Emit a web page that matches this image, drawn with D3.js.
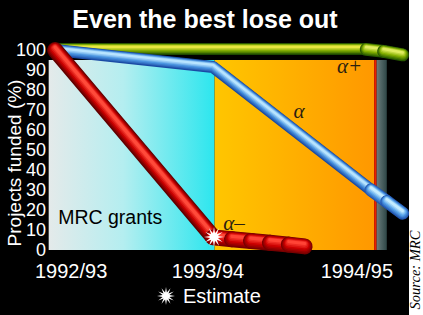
<!DOCTYPE html>
<html>
<head>
<meta charset="utf-8">
<script src="https://cdn.jsdelivr.net/npm/d3@7.9.0/dist/d3.min.js"></script>
<style>
  body { margin: 0; background: #fff; }
  svg { display: block; }
</style>
</head>
<body>
<svg id="chart" width="423" height="315"></svg>
<script>
// --- data ---
const years = ['1992/93', '1993/94', '1994/95'];
const yTicks = [0, 10, 20, 30, 40, 50, 60, 70, 80, 90, 100];

// [year index, % funded]
const alphaPlus = [[0, 100.5], [1, 100.5], [1.96, 100.5]];
const alphaPlusEst = [[1.97, 100.3], [2.08, 99.3], [2.2, 97.6]];
const alpha = [[0, 100], [1, 91.5], [2.0, 30]];
const alphaEst = [[2.0, 30], [2.1, 24.2], [2.2, 18.4]];
const alphaMinus = [[0, 100], [1, 6.5]];
const alphaMinusEst = [[1.0, 6.3], [1.12, 5.4], [1.24, 4.5], [1.36, 3.6], [1.48, 2.7], [1.58, 1.8]];
const estimatePoint = [1, 6.5];

const W = 423, H = 315;
const sans = '"Liberation Sans", Arial, sans-serif';
const serif = '"Liberation Serif", "DejaVu Serif", serif';
const svg = d3.select('#chart').style('font-family', sans);

const x = d3.scaleLinear().domain([0, 2]).range([55, 371]);
const y = d3.scaleLinear().domain([0, 100]).range([250, 50]);

// black panel, white strip on the right
svg.append('rect').attr('width', 409).attr('height', H).attr('fill', '#000');
svg.append('rect').attr('x', 409).attr('width', W - 409).attr('height', H).attr('fill', '#fff');

const defs = svg.append('defs');
function grad(id, stops) {
  const g = defs.append('linearGradient').attr('id', id)
    .attr('x1', 0).attr('x2', 1).attr('y1', 0).attr('y2', 0);
  stops.forEach(s => g.append('stop').attr('offset', s[0]).attr('stop-color', s[1]));
}
grad('gCyan', [[0, '#e4eaea'], [0.45, '#b4eef0'], [1, '#2ce6ee']]);
grad('gOrange', [[0, '#ffc600'], [1, '#ff9800']]);
grad('gSlate', [[0, '#6a7c7c'], [1, '#2e4646']]);

// background bands (in year units)
const bands = [
  { x0: -0.04, x1: 1.01, fill: 'url(#gCyan)' },
  { x0: 1.01, x1: 2.02, fill: 'url(#gOrange)' },
  { x0: 2.02, x1: 2.036, fill: '#e82000' },
  { x0: 2.036, x1: 2.1, fill: 'url(#gSlate)' }
];
svg.append('g').selectAll('rect').data(bands).join('rect')
  .attr('x', d => x(d.x0))
  .attr('width', d => x(d.x1) - x(d.x0))
  .attr('y', y(95))
  .attr('height', y(0) - y(95))
  .attr('fill', d => d.fill);

// tubes: stacked strokes, dark edge -> light core, core nudged upward
const line = d3.line().x(d => x(d[0])).y(d => y(d[1]));

function tube(pts, w, cols) {
  const g = svg.append('g');
  const n = 7;
  const c1 = d3.interpolateRgb(cols[0], cols[1]);
  const c2 = d3.interpolateRgb(cols[1], cols[2]);
  for (let i = 0; i < n; i++) {
    const t = i / (n - 1);
    const col = t < 0.5 ? c1(t * 2) : c2((t - 0.5) * 2);
    g.append('path').attr('d', line(pts))
      .attr('fill', 'none')
      .attr('stroke', col).attr('stroke-width', w * (1 - t * 0.8))
      .attr('stroke-linecap', 'round').attr('stroke-linejoin', 'round')
      .attr('transform', `translate(0,${-t * w * 0.18})`);
  }
}
function bulbs(pts, w, cols) {
  for (let i = 0; i < pts.length - 1; i++) tube([pts[i], pts[i + 1]], w, cols);
}

const greenCols = ['#1c4800', '#7aa800', '#e8e840'];
const greenEst = ['#285a00', '#84b000', '#e0ec60'];
const blueCols = ['#1a4aa4', '#4a94e0', '#b8e4ff'];
const blueEst = ['#2256b0', '#56a2ea', '#c4ecff'];
const redCols = ['#600000', '#c80000', '#ff4a3a'];
const redEst = ['#780000', '#cc0000', '#ff4436'];

tube(alphaPlus, 12, greenCols);
bulbs(alphaPlusEst, 13, greenEst);
tube(alpha, 12, blueCols);
bulbs(alphaEst, 13, blueEst);
tube(alphaMinus, 16, redCols);
bulbs(alphaMinusEst, 16, redEst);

// starburst
function starPath(r0, r1, n) {
  const pts = d3.range(n * 2).map(i => {
    const a = i * Math.PI / n;
    const r = i % 2 ? r0 : r1;
    return [Math.sin(a) * r, -Math.cos(a) * r];
  });
  return 'M' + pts.map(p => p.join(',')).join('L') + 'Z';
}
svg.append('path').attr('d', starPath(4, 10, 12))
  .attr('transform', `translate(${x(estimatePoint[0]) + 1},${y(estimatePoint[1])})`)
  .attr('fill', '#fff');

// annotations
const notes = [
  { t: 'α+', at: [1.785, 88.5] },
  { t: 'α', at: [1.51, 66] },
  { t: 'α–', at: [1.065, 10] }
];
svg.append('g').selectAll('text').data(notes).join('text')
  .attr('x', d => x(d.at[0])).attr('y', d => y(d.at[1]))
  .style('font-family', serif).style('font-style', 'italic')
  .attr('font-size', 21).attr('fill', '#2a2010')
  .text(d => d.t);
svg.append('text').attr('x', x(0.02)).attr('y', y(13)).text('MRC grants')
  .attr('font-size', 19.5).attr('fill', '#000');

// title
svg.append('text').attr('x', 205).attr('y', 28).attr('text-anchor', 'middle')
  .attr('font-size', 25).attr('font-weight', 'bold').attr('fill', '#fff')
  .text('Even the best lose out');

// y axis labels
svg.append('g').selectAll('text').data(yTicks).join('text')
  .attr('x', 46).attr('y', d => y(d)).attr('dy', '0.36em')
  .attr('text-anchor', 'end').attr('font-size', 18).attr('fill', '#fff')
  .text(d => d);

svg.append('text')
  .attr('transform', 'translate(21,163) rotate(-90)')
  .attr('text-anchor', 'middle').attr('font-size', 19).attr('fill', '#fff')
  .text('Projects funded (%)');

// x axis labels
const xAnchor = ['start', 'middle', 'end'];
const xShift = [-20, -5, 22];
svg.append('g').selectAll('text').data(years).join('text')
  .attr('x', (d, i) => x(i) + xShift[i]).attr('y', 278)
  .attr('text-anchor', (d, i) => xAnchor[i])
  .attr('font-size', 20).attr('fill', '#fff')
  .text(d => d);

// legend
svg.append('path').attr('d', starPath(3.5, 9, 12))
  .attr('transform', 'translate(166,296)').attr('fill', '#fff');
svg.append('text').attr('x', 183).attr('y', 303)
  .attr('font-size', 20).attr('fill', '#fff').text('Estimate');

// source
svg.append('text')
  .attr('transform', 'translate(420,270) rotate(-90)')
  .attr('text-anchor', 'middle')
  .style('font-family', serif).style('font-style', 'italic')
  .attr('font-size', 14.5).attr('fill', '#000')
  .text('Source: MRC');
</script>
</body>
</html>
